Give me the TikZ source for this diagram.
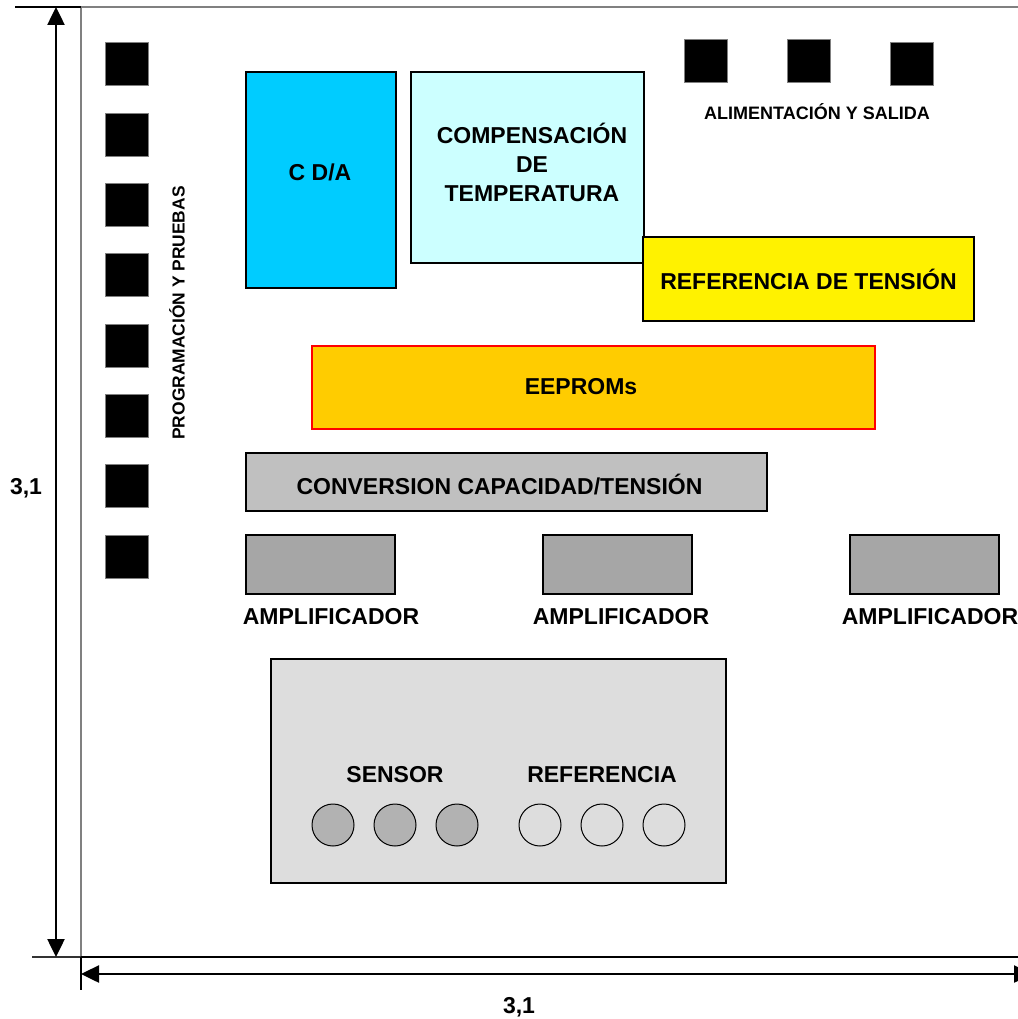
\documentclass[tikz,border=0pt]{standalone}
\usepackage{fontspec}
\setmainfont{Liberation Sans}
\usetikzlibrary{arrows.meta}

\definecolor{dacblue}{HTML}{00CCFF}
\definecolor{compcyan}{HTML}{CCFFFF}
\definecolor{eeorange}{HTML}{FFCC00}
\definecolor{convgray}{HTML}{C0C0C0}
\definecolor{ampgray}{HTML}{A6A6A6}
\definecolor{sensgray}{HTML}{DDDDDD}
\definecolor{dotgray}{HTML}{B2B2B2}

\begin{document}
\begin{tikzpicture}[x=1pt,y=-1pt,
    block/.style={draw=black,line width=2pt,inner sep=0pt,align=center,font=\fontsize{23}{29}\selectfont\bfseries},
    pad/.style={draw=gray,fill=black,line width=1pt,minimum size=43pt,inner sep=0pt},
    amp/.style={block,fill=ampgray,minimum width=149pt,minimum height=59pt},
    dot/.style={circle,draw=black,line width=1pt,minimum size=42pt,inner sep=0pt},
    lbl/.style={font=\fontsize{23}{29}\selectfont\bfseries,inner sep=0pt,align=center},
    small_lbl/.style={font=\fontsize{18}{21}\selectfont\bfseries,inner sep=0pt},
    dim/.style={line width=2.5pt,{Triangle[length=18pt,width=17pt]}-{Triangle[length=18pt,width=17pt]}}]
    \useasboundingbox (0,0) rectangle (1017,1019);

    % board outline and extension lines
    \draw[gray,line width=1.5pt] (81,7) -- (1030,7);
    \draw[gray,line width=1.5pt] (81,7) -- (81,957);
    \draw[black,line width=1.5pt] (81,957) -- (1030,957);
    \draw[black,line width=2pt] (15,7) -- (81,7);
    \draw[black!80,line width=2pt] (32,957) -- (81,957);
    \draw[black,line width=2pt] (81,957) -- (81,990);

    % dimensions
    \coordinate (vtop) at (56,7);
    \coordinate (vbot) at (56,957);
    \coordinate (hleft) at (81,974);
    \coordinate (hright) at (1032,974);
    \draw[dim] (vtop) -- (vbot);
    \draw[dim] (hleft) -- (hright);
    \node[lbl] (dimv) at (26,488) {3,1};
    \node[lbl] (dimh) at (519,1007) {3,1};

    % programming pads
    \node[pad] (p1) at (126.5,64.5) {};
    \node[pad] (p2) at (126.5,134.8) {};
    \node[pad] (p3) at (126.5,205.1) {};
    \node[pad] (p4) at (126.5,275.4) {};
    \node[pad] (p5) at (126.5,345.7) {};
    \node[pad] (p6) at (126.5,416) {};
    \node[pad] (p7) at (126.5,486.3) {};
    \node[pad] (p8) at (126.5,556.6) {};
    \node[small_lbl,font=\fontsize{17.4}{21}\selectfont\bfseries,rotate=90] (prog) at (177,313) {PROGRAMACIÓN Y PRUEBAS};

    % supply pads
    \node[pad] (s1) at (705.5,61) {};
    \node[pad] (s2) at (808.5,61) {};
    \node[pad] (s3) at (912,64.5) {};
    \node[small_lbl] (supply) at (817,112) {ALIMENTACIÓN Y SALIDA};

    % functional blocks
    \node[block,fill=dacblue,minimum width=150pt,minimum height=216pt] (dac) at (321,180) {};
    \node[lbl] (dact) at (320,172) {C D/A};
    \node[block,fill=compcyan,minimum width=233pt,minimum height=191pt] (comp) at (527.5,167.5) {};
    \node[lbl] (compt) at (532,162) {COMPENSACIÓN\\DE\\TEMPERATURA};
    \node[block,fill=yellow,minimum width=331pt,minimum height=84pt] (vref) at (808.5,279) {REFERENCIA DE TENSIÓN};
    \node[block,draw=red,fill=eeorange,minimum width=563pt,minimum height=83pt] (eeprom) at (593.5,387.5) {};
    \node[lbl] (eepromt) at (581,387) {EEPROMs};
    \node[block,fill=convgray,minimum width=521pt,minimum height=58pt] (conv) at (506.5,482) {};
    \node[lbl] (convt) at (499.5,485) {CONVERSION CAPACIDAD/TENSIÓN};

    % amplifiers
    \node[amp] (a1) at (320.5,564.5) {};
    \node[amp] (a2) at (617.5,564.5) {};
    \node[amp] (a3) at (924,564.5) {};
    \node[lbl] (a1l) at (331,617) {AMPLIFICADOR};
    \node[lbl] (a2l) at (621,617) {AMPLIFICADOR};
    \node[lbl] (a3l) at (930,617) {AMPLIFICADOR};

    % sensor die
    \node[block,fill=sensgray,minimum width=455pt,minimum height=224pt] (die) at (498.5,771) {};
    \node[lbl] (sens) at (395,775) {SENSOR};
    \node[lbl] (ref) at (602,775) {REFERENCIA};
    \node[dot,fill=dotgray] (c1) at (333,825) {};
    \node[dot,fill=dotgray] (c2) at (395,825) {};
    \node[dot,fill=dotgray] (c3) at (457,825) {};
    \node[dot,fill=sensgray] (r1) at (540,825) {};
    \node[dot,fill=sensgray] (r2) at (602,825) {};
    \node[dot,fill=sensgray] (r3) at (664,825) {};
\end{tikzpicture}
\end{document}
